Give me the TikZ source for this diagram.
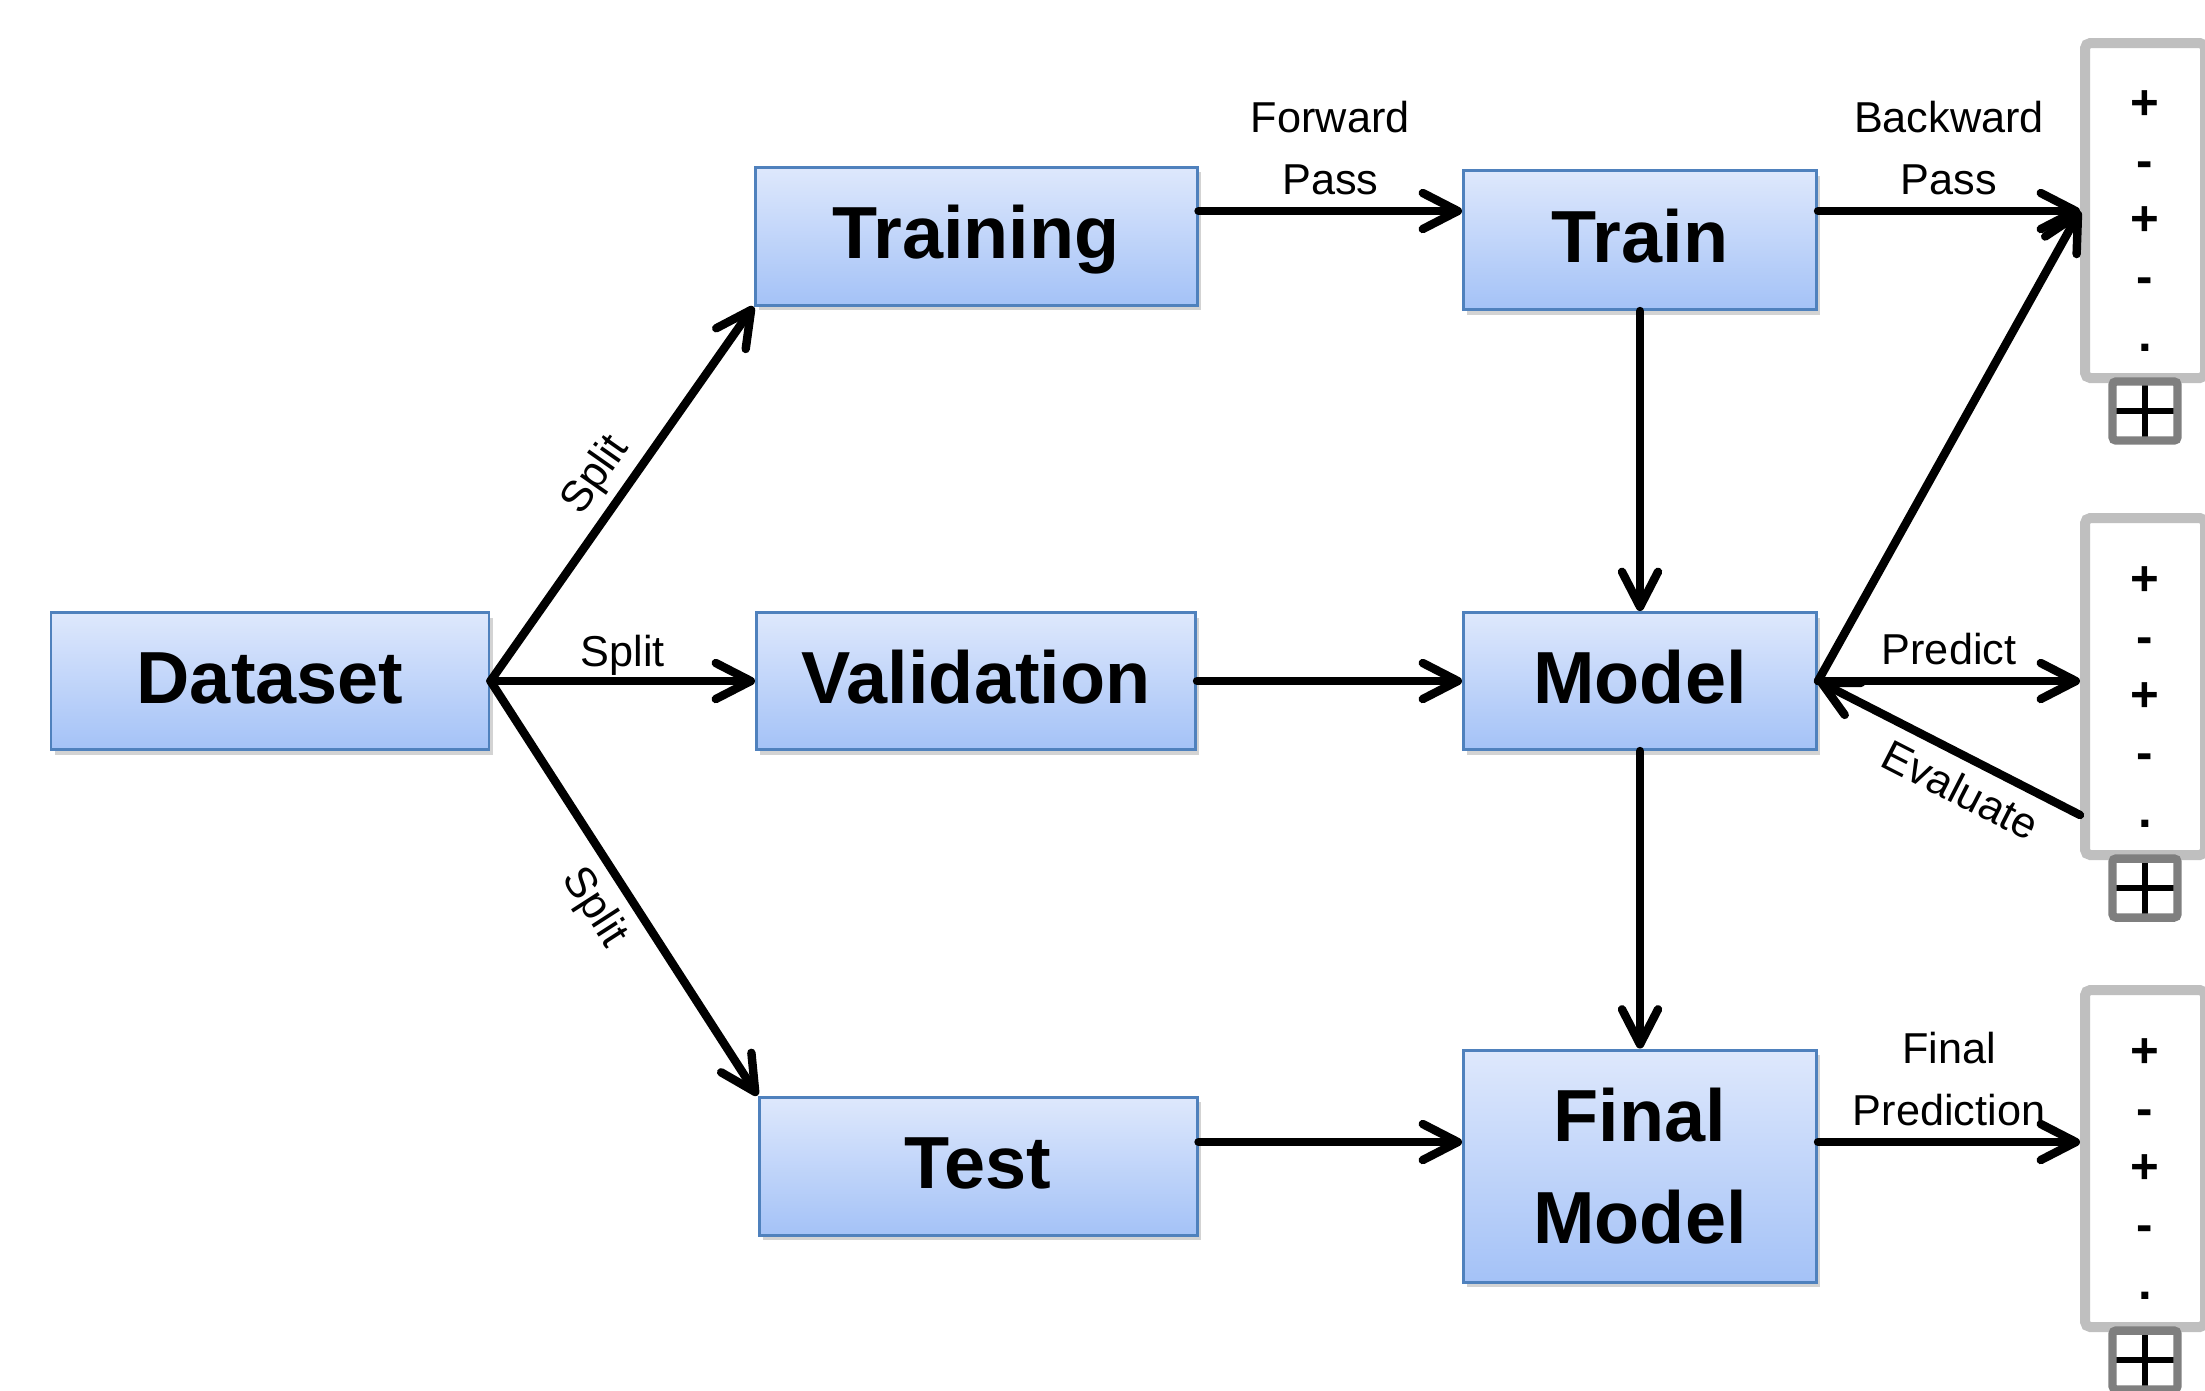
\documentclass[tikz,border=0pt]{standalone}
\usepackage{fontspec}
\setmainfont{Liberation Sans}
\usepackage{tikz}
\usetikzlibrary{arrows.meta,shadows}

\definecolor{boxtop}{RGB}{222,232,252}
\definecolor{boxbot}{RGB}{164,194,247}
\definecolor{boxline}{RGB}{79,129,189}
\definecolor{panelgray}{RGB}{191,191,191}
\definecolor{expgray}{RGB}{127,127,127}

\begin{document}
\begin{tikzpicture}[
    >={Straight Barb[length=3.5mm, width=3.6mm, line cap=round, line join=round]},
    stage/.style={draw=boxline, line width=0.85pt, top color=boxtop, bottom color=boxbot,
        align=center, font=\fontsize{21}{29}\selectfont\bfseries,
        drop shadow={shadow xshift=1pt, shadow yshift=-1.5pt, opacity=0.35}},
    oneline/.style={text height=16.8pt, text depth=4.2pt},
    flow/.style={->, line width=2.4pt, line cap=round},
    lbl/.style={align=center, font=\fontsize{12.3}{17.6}\selectfont},
    panel/.style={draw=panelgray, line width=2.85pt, fill=white, rounded corners=1.5pt,
        minimum width=1.2cm},
    marks/.style={align=center, font=\fontsize{14}{16.5}\selectfont\bfseries},
    expander/.style={draw=expgray, line width=2.4pt, fill=white, rounded corners=1pt,
        minimum width=0.65cm, minimum height=0.59cm,
        path picture={\draw[black, line width=1.9pt]
            (path picture bounding box.north) -- (path picture bounding box.south)
            (path picture bounding box.west) -- (path picture bounding box.east);}}
]

    % Fix page size
    \useasboundingbox (0,0) rectangle (22.05,-13.90);
    \clip (0,0) rectangle (22.05,-13.90);

    % Rows of the arrows that sit above the box centres
    \coordinate (fwd) at (0,-2.11);
    \coordinate (lowrow) at (0,-11.42);

    % Draw data boxes
    \node[stage, oneline, minimum width=4.38cm, minimum height=1.37cm] (dataset) at (2.70,-6.81) {Dataset};
    \node[stage, oneline, minimum width=4.42cm, minimum height=1.38cm] (training) at (9.76,-2.36) {Training};
    \node[stage, oneline, minimum width=4.39cm, minimum height=1.37cm] (validation) at (9.76,-6.81) {Validation};
    \node[stage, oneline, minimum width=4.38cm, minimum height=1.38cm] (test) at (9.78,-11.66) {Test};

    % Draw model boxes
    \node[stage, oneline, minimum width=3.53cm, minimum height=1.39cm] (train) at (16.40,-2.40) {Train};
    \node[stage, oneline, minimum width=3.53cm, minimum height=1.37cm] (model) at (16.40,-6.81) {Model};
    \node[stage, minimum width=3.53cm, minimum height=2.32cm] (final) at (16.40,-11.66) {Final\\Model};

    % Draw output panels with their expander boxes
    \node[panel, minimum height=3.35cm] (out1) at (21.45,-2.105) {};
    \node[panel, minimum height=3.37cm] (out2) at (21.45,-6.865) {};
    \node[panel, minimum height=3.37cm] (out3) at (21.45,-11.585) {};
    \node[marks, yshift=-0.11cm] (marks1) at (out1.center) {+\\-\\+\\-\\.};
    \node[marks, yshift=-0.11cm] (marks2) at (out2.center) {+\\-\\+\\-\\.};
    \node[marks, yshift=-0.11cm] (marks3) at (out3.center) {+\\-\\+\\-\\.};
    \node[expander] (exp1) at ([yshift=-0.28cm]out1.south) {};
    \node[expander] (exp2) at ([yshift=-0.28cm]out2.south) {};
    \node[expander] (exp3) at ([yshift=-0.28cm]out3.south) {};
    \coordinate (evalpt) at ([yshift=-1.285cm]out2.west);

    % Draw split arrows
    \draw[flow] (dataset.east) -- (training.south west)
        node[lbl, midway, sloped, above, inner sep=2pt] {Split};
    \draw[flow] (dataset.east) -- (validation.west)
        node[lbl, midway, above, inner sep=0.5pt] {Split};
    \draw[flow] (dataset.east) -- (test.north west)
        node[lbl, midway, sloped, below] {Split};

    % Draw arrows into the model column
    \draw[flow] (training.east |- fwd) -- (train.west |- fwd)
        node[lbl, midway, above] {Forward\\Pass};
    \draw[flow] (validation.east) -- (model.west);
    \draw[flow] (test.east |- lowrow) -- (final.west |- lowrow);
    \draw[flow] (train.south) -- (model.north);
    \draw[flow] (model.south) -- (final.north);

    % Draw arrows to and from the output panels
    \draw[flow] (train.east |- fwd) -- (out1.west |- fwd)
        node[lbl, midway, above] {Backward\\Pass};
    \draw[flow] (model.east) -- (out1.west |- fwd);
    \draw[flow] (model.east) -- (out2.west |- model.east)
        node[lbl, midway, above] {Predict};
    \draw[flow, <-] (model.east) -- (evalpt)
        node[lbl, pos=0.6, sloped, below] {Evaluate};
    \draw[flow] (final.east |- lowrow) -- (out3.west |- lowrow)
        node[lbl, midway, above] {Final\\Prediction};
\end{tikzpicture}
\end{document}
